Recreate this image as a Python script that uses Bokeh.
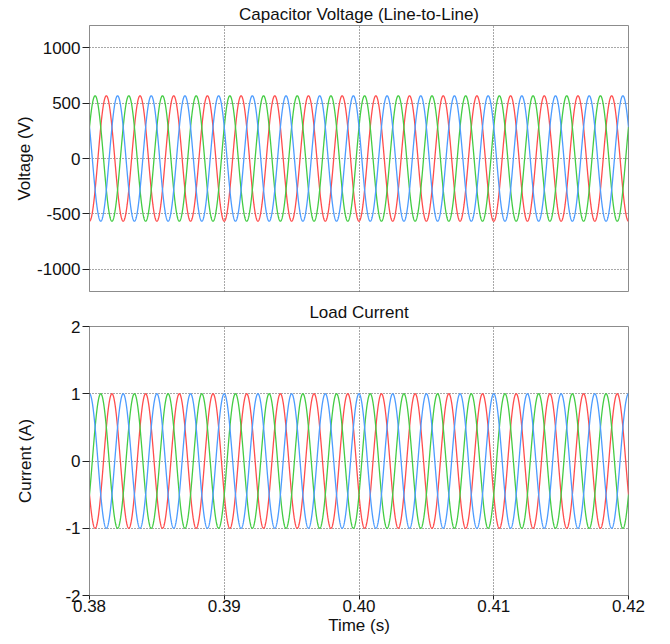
import numpy as np
from bokeh.plotting import figure
from bokeh.layouts import column
from bokeh.models import FixedTicker, Range1d
from bokeh.embed import file_html
from bokeh.resources import INLINE

# ---- data ----
t_start, t_end = 0.38, 0.42
freq_hz = 400.0
voltage_amp = 565.7          # V peak (line-to-line)
current_amp = 1.0            # A peak
phase_colors = ["#ff4d4d", "#44cc44", "#4d9cff"]   # red, green, blue
voltage_phase_deg = [180.0, 60.0, 300.0]
current_phase_deg = [240.0, 120.0, 0.0]
x_ticks = [0.38, 0.39, 0.40, 0.41, 0.42]
v_ticks = [-1000, -500, 0, 500, 1000]
i_ticks = [-2, -1, 0, 1, 2]

t = np.linspace(t_start, t_end, 4001)

FONT = "Liberation Sans"
FS = "17px"
LEFT = 89
FRAME_W = 539
RIGHT = 30
W = LEFT + FRAME_W + RIGHT


def style(p, label_standoff, title_standoff):
    p.outline_line_color = "#8c8c8c"
    p.outline_line_width = 1
    p.background_fill_color = "white"
    p.border_fill_color = "white"
    p.title.text_font = FONT
    p.title.text_font_size = FS
    p.title.text_font_style = "normal"
    p.title.align = "center"
    p.title.text_color = "#111111"
    p.title.standoff = title_standoff
    for ax in p.yaxis:
        ax.axis_line_color = "#8c8c8c"
        ax.major_tick_line_color = "#222222"
        ax.major_tick_out = 7
        ax.major_tick_in = 0
        ax.minor_tick_line_color = None
        ax.major_label_standoff = 2
        ax.major_label_text_font = FONT
        ax.major_label_text_font_size = FS
        ax.major_label_text_color = "#111111"
        ax.axis_label_text_font = FONT
        ax.axis_label_text_font_size = FS
        ax.axis_label_text_font_style = "normal"
        ax.axis_label_text_color = "#111111"
        ax.axis_label_standoff = label_standoff
    for g in p.xgrid + p.ygrid:
        g.grid_line_color = "#333333"
        g.grid_line_dash = "1 2"
        g.grid_line_alpha = 0.85


# ---- top: capacitor voltage ----
p1 = figure(width=W, height=296, output_backend="svg", toolbar_location=None,
            title="Capacitor Voltage (Line-to-Line)",
            x_range=Range1d(t_start, t_end), y_range=Range1d(-1200, 1200),
            min_border_left=LEFT, min_border_right=RIGHT, min_border_top=25,
            min_border_bottom=5)
for col, ph in zip(phase_colors, voltage_phase_deg):
    y = voltage_amp * np.cos(2 * np.pi * freq_hz * t - np.deg2rad(ph))
    p1.line(t, y, line_color=col, line_width=1.3)
p1.xaxis.visible = False
p1.xaxis.ticker = FixedTicker(ticks=x_ticks)
p1.xgrid.ticker = FixedTicker(ticks=x_ticks)
p1.yaxis.ticker = FixedTicker(ticks=v_ticks)
p1.yaxis.major_label_overrides = {v: str(v) for v in v_ticks}
p1.yaxis.axis_label = "Voltage (V)"
style(p1, 0, 4)

# ---- bottom: load current ----
p2 = figure(width=W, height=341, output_backend="svg", toolbar_location=None,
            title="Load Current",
            x_range=p1.x_range, y_range=Range1d(-2, 2),
            min_border_left=LEFT, min_border_right=RIGHT, min_border_top=30,
            min_border_bottom=5)
for col, ph in zip(phase_colors, current_phase_deg):
    y = current_amp * np.cos(2 * np.pi * freq_hz * t - np.deg2rad(ph))
    p2.line(t, y, line_color=col, line_width=1.3)
p2.xaxis.ticker = FixedTicker(ticks=x_ticks)
p2.xaxis.major_label_overrides = {v: f"{v:.2f}" for v in x_ticks}
p2.xaxis.axis_label = "Time (s)"
p2.yaxis.ticker = FixedTicker(ticks=i_ticks)
p2.yaxis.major_label_overrides = {v: str(v) for v in i_ticks}
p2.yaxis.axis_label = "Current (A)"
style(p2, 27, 9)
ax = p2.xaxis[0]
ax.axis_line_color = "#8c8c8c"
ax.major_tick_line_color = "#222222"
ax.major_tick_out = 4
ax.major_tick_in = 0
ax.minor_tick_line_color = None
ax.major_label_text_font = FONT
ax.major_label_text_font_size = FS
ax.major_label_text_color = "#111111"
ax.major_label_standoff = 0
ax.axis_label_text_font = FONT
ax.axis_label_text_font_size = FS
ax.axis_label_text_font_style = "normal"
ax.axis_label_text_color = "#111111"
ax.axis_label_standoff = 1

layout = column(p1, p2, spacing=0)
open("out.html", "w").write(file_html(layout, INLINE))
